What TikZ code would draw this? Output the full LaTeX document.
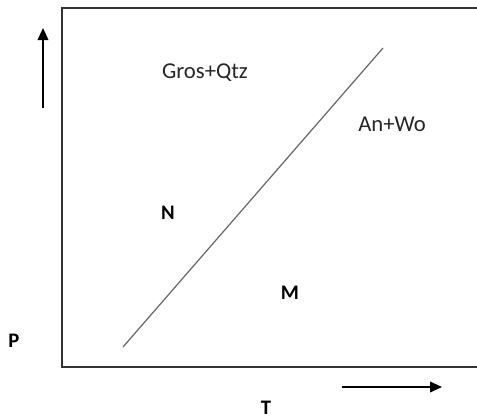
\documentclass[tikz,border=0pt]{standalone}
\usepackage{fontspec}
\setmainfont{Carlito}
\usetikzlibrary{arrows.meta,positioning,calc}

\begin{document}
\begin{tikzpicture}[x=0.75pt, y=-0.75pt, >={Triangle[length=9pt,width=8pt]},
    label text/.style={font=\fontsize{17}{20}\selectfont, text=black!85},
    axis text/.style={font=\bfseries\fontsize{15.5}{18}\selectfont}]
        \useasboundingbox (0,0) rectangle (477,418);
        \clip (0,0) rectangle (477,418);
        % plot frame (right side runs off the page)
        \draw[line width=1.5pt, black!80] (486,8) -- (62,8) -- (62,367) -- (486,367);
        % reaction boundary
        \coordinate (lo) at (123,347);
        \coordinate (hi) at (383,48);
        \draw[black!60, line width=0.9pt] (lo) -- (hi);
        % field labels
        \node[label text] (gros) at (205,73) {Gros+Qtz};
        \node[label text] (anwo) at (392,124) {An+Wo};
        \node[axis text] (n) at (168,213) {N};
        \node[axis text] (m) at (290,293) {M};
        % axes
        \node[axis text] (p) at (14,341) {P};
        \node[axis text] (t) at (266,408) {T};
        \coordinate (p0) at (43,108);
        \coordinate (p1) at (43,28);
        \coordinate (t0) at (342,387);
        \coordinate (t1) at (442,387);
        \draw[->, line width=1.2pt] (p0) -- (p1);
        \draw[->, line width=1.2pt] (t0) -- (t1);
\end{tikzpicture}
\end{document}
